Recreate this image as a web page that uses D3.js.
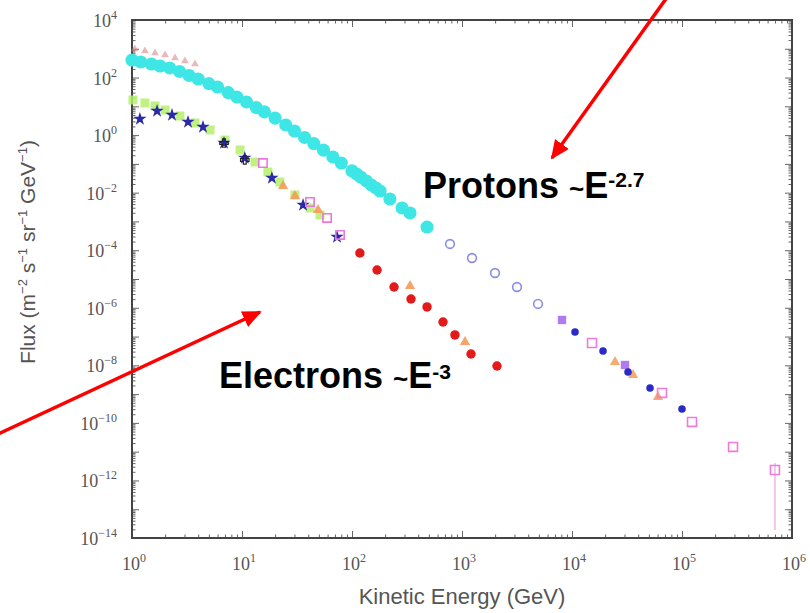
<!DOCTYPE html>
<html>
<head>
  <script src="https://d3js.org/d3.v7.min.js"></script>
  <style>
    body { margin: 0; background: #fff; }
    svg { display: block; }
    .tick-label { font-family: "Liberation Serif", serif; fill: #555; }
    .axis-title { font-family: "Liberation Sans", Arial, sans-serif; fill: #555; }
    .note { font-family: "Liberation Sans", Arial, sans-serif; font-weight: bold; fill: #000; }
  </style>
</head>
<body>
  <svg width="810" height="613"></svg>
  <script>
    const width = 810, height = 613;

    // tick exponents
    const xLabelExps = [0, 1, 2, 3, 4, 5, 6];
    const yLabelExps = [4, 2, 0, -2, -4, -6, -8, -10, -12, -14];

    // [energy GeV, flux], one array per marker style
    const protonCyan = [
      [1, 407], [1.2, 348], [1.5, 296], [1.8, 252], [2.2, 215], [2.7, 163], [3.3, 118],
      [4, 89], [5, 62], [6, 47], [7.5, 30], [9, 21], [11, 14.2], [13.5, 9.1], [16, 6.4],
      [20, 3.9], [25, 2.25], [30, 1.39], [37, 0.83], [45, 0.51], [55, 0.30], [67, 0.174],
      [80, 0.107], [100, 0.057], [110, 0.0446], [120, 0.035], [135, 0.0255], [150, 0.0185],
      [165, 0.01456], [180, 0.0114], [221, 0.00603], [285, 0.00294], [337, 0.00197], [481, 0.00064]
    ];
    const protonLowRed = [
      [1.06, 982], [1.31, 838], [1.62, 713], [2.0, 608], [2.46, 479], [3.03, 376], [3.74, 296]
    ];
    const protonOpenBlue = [
      [778, 1.65e-4], [1233, 5.37e-5], [1995, 1.62e-5], [3162, 5.28e-6], [4910, 1.36e-6]
    ];
    const protonPurple = [[8110, 3.77e-7], [30300, 1.03e-8]];
    const protonNavy = [
      [10650, 1.44e-7], [19140, 3.16e-8], [32300, 5.87e-9], [51200, 1.63e-9], [100000, 3.05e-10]
    ];
    const protonPink = [
      [15200, 5.98e-8], [65800, 1.10e-9], [123300, 1.08e-10], [291000, 1.46e-11], [700000, 2.31e-12]
    ];
    const protonOrange = [[24600, 1.31e-8], [35900, 4.62e-9], [60500, 7.96e-10]];
    const protonPinkErr = [[700000, 1.9e-14, 4.0e-12]];

    const electronGreen = [
      [1.02, 16.6], [1.31, 13.1], [1.62, 10.3], [2.0, 7.46], [2.73, 4.61], [3.74, 2.64],
      [5.12, 1.51], [7.0, 0.676], [9.6, 0.304], [13.1, 0.116], [17.2, 0.0523], [22.1, 0.0235],
      [30.3, 0.0083], [41.5, 0.00294], [51.2, 0.00168]
    ];
    const electronStar = [
      [1.18, 3.63], [1.69, 6.89], [2.31, 5.0], [3.23, 2.86], [4.42, 1.91], [6.86, 0.532],
      [10.6, 0.160], [18.7, 0.0324], [35.9, 0.00373], [73.1, 2.88e-4]
    ];
    const electronCross = [[6.86, 0.532], [10.6, 0.137]];
    const electronPink = [[15.5, 0.107], [41.5, 0.00474], [59.3, 0.00132], [77.8, 3.39e-4]];
    const electronOrange = [
      [23.6, 0.01706], [30.3, 0.00767], [49.1, 0.0025], [337, 5.72e-6], [1065, 6.48e-8]
    ];
    const electronRed = [
      [118, 8.0e-5], [169, 2.06e-5], [241, 5.28e-6], [344, 2.02e-6], [481, 1.07e-6],
      [672, 3.21e-7], [863, 1.14e-7], [1208, 2.48e-8], [2080, 9.5e-9]
    ];

    const margin = { top: 20, right: 18, bottom: 75, left: 132 };
    const x = d3.scaleLog().domain([1, 1e6]).range([margin.left, width - margin.right]);
    const y = d3.scaleLog().domain([1e-14, 1e4]).range([height - margin.bottom, margin.top]);

    const svg = d3.select("svg")
      .attr("width", width)
      .attr("height", height);

    // ---- ticks (inward on all four sides) ----
    function decadeTicks(lo, hi) {
      const major = d3.range(lo, hi + 1).map(e => Math.pow(10, e));
      const minor = [];
      for (let e = lo; e < hi; e++) for (let k = 2; k <= 9; k++) minor.push(k * Math.pow(10, e));
      return { major, minor };
    }
    const xt = decadeTicks(0, 6), yt = decadeTicks(-14, 4);
    const x0 = x.range()[0], x1 = x.range()[1], y0 = y.range()[0], y1 = y.range()[1];

    function axisGroup(axis, tx, ty) {
      const g = svg.append("g").attr("transform", `translate(${tx},${ty})`).call(axis);
      g.select(".domain").remove();
      g.selectAll("line").attr("stroke", "#666").attr("stroke-width", 1);
      return g;
    }
    [[xt.major, 7], [xt.minor, 3.5]].forEach(([vals, len]) => {
      axisGroup(d3.axisBottom(x).tickValues(vals).tickFormat("").tickSize(-len).tickSizeOuter(0), 0, y0);
      axisGroup(d3.axisTop(x).tickValues(vals).tickFormat("").tickSize(-len).tickSizeOuter(0), 0, y1);
    });
    [[yt.major, 7], [yt.minor, 3.5]].forEach(([vals, len]) => {
      axisGroup(d3.axisLeft(y).tickValues(vals).tickFormat("").tickSize(-len).tickSizeOuter(0), x0, 0);
      axisGroup(d3.axisRight(y).tickValues(vals).tickFormat("").tickSize(-len).tickSizeOuter(0), x1, 0);
    });

    svg.append("rect")
      .attr("x", x0).attr("y", y1)
      .attr("width", x1 - x0).attr("height", y0 - y1)
      .attr("fill", "none").attr("stroke", "#444").attr("stroke-width", 2);

    // ---- tick labels ----
    const xl = svg.selectAll(".xl").data(xLabelExps).enter().append("text")
      .attr("class", "tick-label")
      .attr("x", d => x(Math.pow(10, d)) + 2)
      .attr("y", y0 + 32)
      .attr("text-anchor", "middle")
      .attr("font-size", 18);
    xl.append("tspan").text("10");
    xl.append("tspan").attr("font-size", 12).attr("dy", -8).text(d => String(d).replace("-", "\u2212"));

    const yl = svg.selectAll(".yl").data(yLabelExps).enter().append("text")
      .attr("class", "tick-label")
      .attr("x", x0 - 15)
      .attr("y", d => y(Math.pow(10, d)) + 7)
      .attr("text-anchor", "end")
      .attr("font-size", 18);
    yl.append("tspan").text("10");
    yl.append("tspan").attr("font-size", 12).attr("dy", -8).text(d => String(d).replace("-", "\u2212"));

    // ---- axis titles ----
    svg.append("text")
      .attr("class", "axis-title")
      .attr("x", (x0 + x1) / 2)
      .attr("y", 604)
      .attr("text-anchor", "middle")
      .attr("font-size", 22)
      .text("Kinetic Energy (GeV)");

    const yTitle = svg.append("text")
      .attr("class", "axis-title")
      .attr("transform", "translate(35,252) rotate(-90)")
      .attr("text-anchor", "middle")
      .attr("font-size", 21);
    [["Flux (m", null], ["\u22122", "sup"], [" s", null], ["\u22121", "sup"], [" sr", null],
     ["\u22121", "sup"], [" GeV", null], ["\u22121", "sup"], [")", null]].forEach(([t, k], i, arr) => {
      const ts = yTitle.append("tspan").text(t);
      if (k === "sup") ts.attr("font-size", 13).attr("dy", -8);
      else if (i > 0 && arr[i - 1][1] === "sup") ts.attr("dy", 8);
    });

    // ---- data marks ----
    const sym = (type, size) => d3.symbol().type(type).size(size)();
    function plot(data, type, size, fill, stroke, sw, opacity) {
      svg.append("g").selectAll("path").data(data).enter().append("path")
        .attr("transform", d => `translate(${x(d[0])},${y(d[1])})`)
        .attr("d", sym(type, size))
        .attr("fill", fill)
        .attr("stroke", stroke || "none")
        .attr("stroke-width", sw || 0)
        .attr("opacity", opacity == null ? 1 : opacity);
    }

    // error bar on the last point
    svg.append("g").selectAll("line").data(protonPinkErr).enter().append("line")
      .attr("x1", d => x(d[0])).attr("x2", d => x(d[0]))
      .attr("y1", d => y(d[1])).attr("y2", d => y(d[2]))
      .attr("stroke", "#f0a0e0").attr("stroke-width", 1.2);

    plot(protonLowRed, d3.symbolTriangle, 26, "#d88a8a", null, 0, 0.6);
    plot(protonCyan, d3.symbolCircle, 135, "#3ee6e6");
    plot(electronGreen, d3.symbolSquare, 80, "#b4f06a", null, 0, 0.85);
    plot(electronStar, d3.symbolStar, 55, "#2a2aa8");
    plot(electronCross, d3.symbolCross, 40, "none", "#222", 1.2);
    plot(electronPink, d3.symbolSquare, 70, "none", "#e878e0", 1.6);
    plot(electronOrange, d3.symbolTriangle, 45, "#f59a5a", null, 0, 0.9);
    plot(electronRed, d3.symbolCircle, 70, "#e41a1a");
    plot(protonOpenBlue, d3.symbolCircle, 60, "none", "#8c8ce8", 1.6);
    plot(protonPurple, d3.symbolSquare, 70, "#b27af0");
    plot(protonOrange, d3.symbolTriangle, 45, "#f5a260", null, 0, 0.9);
    plot(protonNavy, d3.symbolCircle, 45, "#2a2ac8");
    plot(protonPink, d3.symbolSquare, 80, "none", "#f07ad8", 1.6);

    // ---- annotations ----
    svg.append("defs").append("marker")
      .attr("id", "head")
      .attr("viewBox", "0 0 10 10")
      .attr("refX", 9).attr("refY", 5)
      .attr("markerUnits", "userSpaceOnUse")
      .attr("markerWidth", 19).attr("markerHeight", 19)
      .attr("orient", "auto")
      .append("path")
      .attr("d", "M0,0.5 L10,5 L0,9.5 Z")
      .attr("fill", "#f00");

    const arrows = [[668, -4, 552, 158], [-2, 434, 260, 312]];
    svg.append("g").selectAll("line").data(arrows).enter().append("line")
      .attr("x1", d => d[0]).attr("y1", d => d[1])
      .attr("x2", d => d[2]).attr("y2", d => d[3])
      .attr("stroke", "#f00").attr("stroke-width", 3.5)
      .attr("marker-end", "url(#head)");

    function note(px, py, name, expo, supDy) {
      const t = svg.append("text").attr("class", "note")
        .attr("x", px).attr("y", py).attr("font-size", 36);
      t.append("tspan").text(name + " ");
      t.append("tspan").attr("font-size", 26).text("~");
      t.append("tspan").text("E");
      t.append("tspan").attr("font-size", 21).attr("dy", supDy).text(expo);
    }
    note(423, 198, "Protons", "-2.7", -11);
    note(219, 388, "Electrons", "-3", -9);
  </script>
</body>
</html>
